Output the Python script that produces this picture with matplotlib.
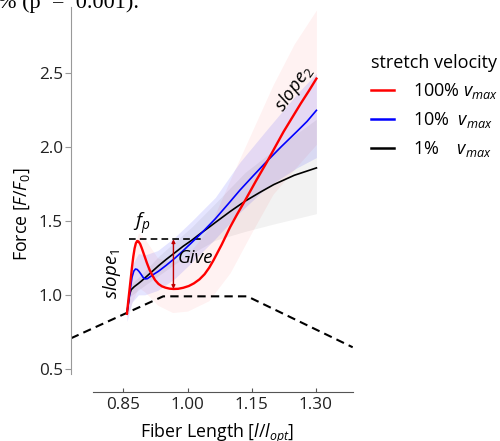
import numpy as np
import matplotlib
matplotlib.use("Agg")
import matplotlib.pyplot as plt

plt.rcParams["font.family"] = ["Open Sans", "DejaVu Sans"]
plt.rcParams["mathtext.fontset"] = "custom"
plt.rcParams["mathtext.rm"] = "Open Sans"
plt.rcParams["mathtext.it"] = "Open Sans:italic"

# --------------------------------------------------
# data
# --------------------------------------------------
red_x = [0.858, 0.862, 0.866, 0.870, 0.873, 0.876, 0.879, 0.882, 0.885, 0.889,
         0.893, 0.899, 0.905, 0.911, 0.917, 0.924, 0.932, 0.940, 0.948, 0.958,
         0.967, 0.978, 0.990, 1.003, 1.015, 1.028, 1.040, 1.051, 1.061, 1.070,
         1.080, 1.090, 1.100, 1.117, 1.135, 1.160, 1.186, 1.205, 1.225, 1.245,
         1.265, 1.285, 1.302]
red_y = [0.872, 0.98, 1.085, 1.19, 1.26, 1.315, 1.35, 1.365, 1.362, 1.345,
         1.315, 1.265, 1.215, 1.17, 1.135, 1.10, 1.074, 1.058, 1.049, 1.042,
         1.04, 1.041, 1.048, 1.060, 1.078, 1.105, 1.14, 1.185, 1.235, 1.285,
         1.34, 1.40, 1.46, 1.55, 1.64, 1.77, 1.90, 2.00, 2.105, 2.20,
         2.295, 2.385, 2.465]

blue_x = [0.858, 0.862, 0.866, 0.870, 0.874, 0.878, 0.882, 0.886, 0.891, 0.896,
          0.901, 0.906, 0.912, 0.920, 0.932, 0.950, 0.971, 0.990, 1.010, 1.035,
          1.065, 1.095, 1.123, 1.155, 1.186, 1.220, 1.256, 1.280, 1.302]
blue_y = [0.872, 0.95, 1.04, 1.12, 1.16, 1.175, 1.172, 1.16, 1.14, 1.118,
          1.108, 1.11, 1.122, 1.138, 1.16, 1.20, 1.25, 1.30, 1.355, 1.425,
          1.515, 1.615, 1.71, 1.81, 1.905, 2.005, 2.106, 2.175, 2.25]

black_x = [0.858, 0.861, 0.864, 0.868, 0.875, 0.885, 0.893, 0.910, 0.932, 0.950,
           0.971, 0.990, 1.010, 1.030, 1.049, 1.065, 1.100, 1.135, 1.170, 1.202,
           1.250, 1.302]
black_y = [0.872, 0.94, 1.00, 1.035, 1.055, 1.077, 1.096, 1.14, 1.197, 1.24,
           1.287, 1.33, 1.37, 1.415, 1.455, 1.49, 1.565, 1.635, 1.695, 1.747,
           1.81, 1.86]

# shaded spread around each mean curve
red_band_x = [0.858, 0.870, 0.885, 0.900, 0.930, 0.965, 1.000, 1.050, 1.100, 1.150,
              1.200, 1.250, 1.302]
red_band_lo = [0.85, 0.95, 1.05, 1.02, 0.93, 0.88, 0.89, 0.96, 1.15, 1.42,
               1.68, 1.85, 2.02]
red_band_hi = [0.89, 1.25, 1.42, 1.38, 1.25, 1.22, 1.27, 1.45, 1.78, 2.10,
               2.42, 2.70, 2.93]

blue_band_x = [0.858, 0.870, 0.885, 0.900, 0.930, 0.970, 1.010, 1.065, 1.123, 1.186,
               1.256, 1.302]
blue_band_lo = [0.82, 0.95, 1.00, 1.00, 1.03, 1.11, 1.22, 1.38, 1.56, 1.73,
                1.86, 1.93]
blue_band_hi = [0.90, 1.20, 1.28, 1.27, 1.30, 1.39, 1.50, 1.66, 1.90, 2.12,
                2.36, 2.50]

black_band_x = [0.858, 0.866, 0.893, 0.932, 0.971, 1.010, 1.065, 1.135, 1.202, 1.302]
black_band_lo = [0.85, 0.99, 1.05, 1.13, 1.21, 1.28, 1.37, 1.43, 1.48, 1.55]
black_band_hi = [0.90, 1.07, 1.14, 1.26, 1.36, 1.46, 1.62, 1.83, 1.98, 2.19]

# isometric force-length relation (dashed)
fl_x = [0.727, 0.943, 1.14, 1.387]
fl_y = [0.706, 0.99, 0.99, 0.645]

# peak force and give
fp_x = [0.862, 1.034]
fp_y = 1.377
give_x = 0.967
give_lo = 1.04

labels = ["100% $v_{max}$", "10%  $v_{max}$", "1%    $v_{max}$"]

# --------------------------------------------------
# figure
# --------------------------------------------------
fig = plt.figure(figsize=(5, 4.41), dpi=100)
ax = fig.add_axes([0.142, 0.1118, 0.5634, 0.8723])

ax.fill_between(red_band_x, red_band_lo, red_band_hi, color="red", alpha=0.05, lw=0)
ax.fill_between(blue_band_x, blue_band_lo, blue_band_hi, color="blue", alpha=0.1, lw=0)
ax.fill_between(black_band_x, black_band_lo, black_band_hi, color="black", alpha=0.05, lw=0)

ax.plot(fl_x, fl_y, color="black", lw=1.5, ls=(0, (4, 2.5)))
ax.plot(fp_x, [fp_y, fp_y], color="black", lw=1.2, ls=(0, (4, 2.5)))

l_black, = ax.plot(black_x, black_y, color="black", lw=1.2)
l_blue, = ax.plot(blue_x, blue_y, color="blue", lw=1.2)
l_red, = ax.plot(red_x, red_y, color="red", lw=1.7)

ax.annotate("", xy=(give_x, give_lo), xytext=(give_x, fp_y),
            arrowprops=dict(arrowstyle="<|-|>", color="#c00000", lw=1.0,
                            shrinkA=0, shrinkB=0, mutation_scale=5))

ax.text(0.893, 1.48, "$f_p$", fontsize=14, ha="center", va="center")
ax.text(1.018, 1.25, "Give", fontsize=13.5, style="italic", ha="center", va="center")
ax.text(0.824, 1.14, "$slope_1$", fontsize=13.5, rotation=90, ha="center", va="center")
ax.text(1.250, 2.40, "$slope_2$", fontsize=13.5, rotation=55, ha="center", va="center")

ax.set_xlim(0.727, 1.387)
ax.set_ylim(0.344, 2.95)
ax.spines["top"].set_visible(False)
ax.spines["right"].set_visible(False)
ax.spines["left"].set_bounds(0.463, 2.95)
ax.spines["bottom"].set_bounds(0.779, 1.387)
ax.spines["left"].set_color("#999999")
ax.spines["bottom"].set_color("#555555")

ax.set_yticks([0.5, 1.0, 1.5, 2.0, 2.5])
ax.set_yticklabels(["0.5", "1.0", "1.5", "2.0", "2.5"])
ax.set_xticks([0.85, 1.00, 1.15, 1.30])
ax.set_xticklabels(["0.85", "1.00", "1.15", "1.30"])
ax.tick_params(axis="y", direction="out", length=4, color="#999999",
               labelsize=12.3, labelcolor="#222222", pad=2)
ax.tick_params(axis="x", direction="in", length=3, color="#555555",
               labelsize=12.3, labelcolor="#222222", pad=4)

ax.set_xlabel("Fiber Length [$l/l_{opt}$]", fontsize=12.8)
ax.set_ylabel("Force [$F/F_0$]", fontsize=12.8)
ax.xaxis.set_label_coords(0.518, -0.078)
ax.yaxis.set_label_coords(-0.14, 0.46)

leg = ax.legend([l_red, l_blue, l_black], labels, title="stretch velocity",
                loc="upper left", bbox_to_anchor=(0.742, 0.877),
                bbox_transform=fig.transFigure, frameon=False,
                fontsize=13, title_fontsize=13, handlelength=1.3,
                handletextpad=1.0, labelspacing=0.5, borderpad=0,
                borderaxespad=0, alignment="left")
for h in leg.legend_handles:
    h.set_linewidth(1.8)

# caption fragment cut off at the top edge
fig.text(-0.005, 1 - 8 / 441, "% (p  =  0.001).", fontsize=16,
         family="Liberation Serif", va="baseline", ha="left")

fig.savefig("out.png", dpi=100)
